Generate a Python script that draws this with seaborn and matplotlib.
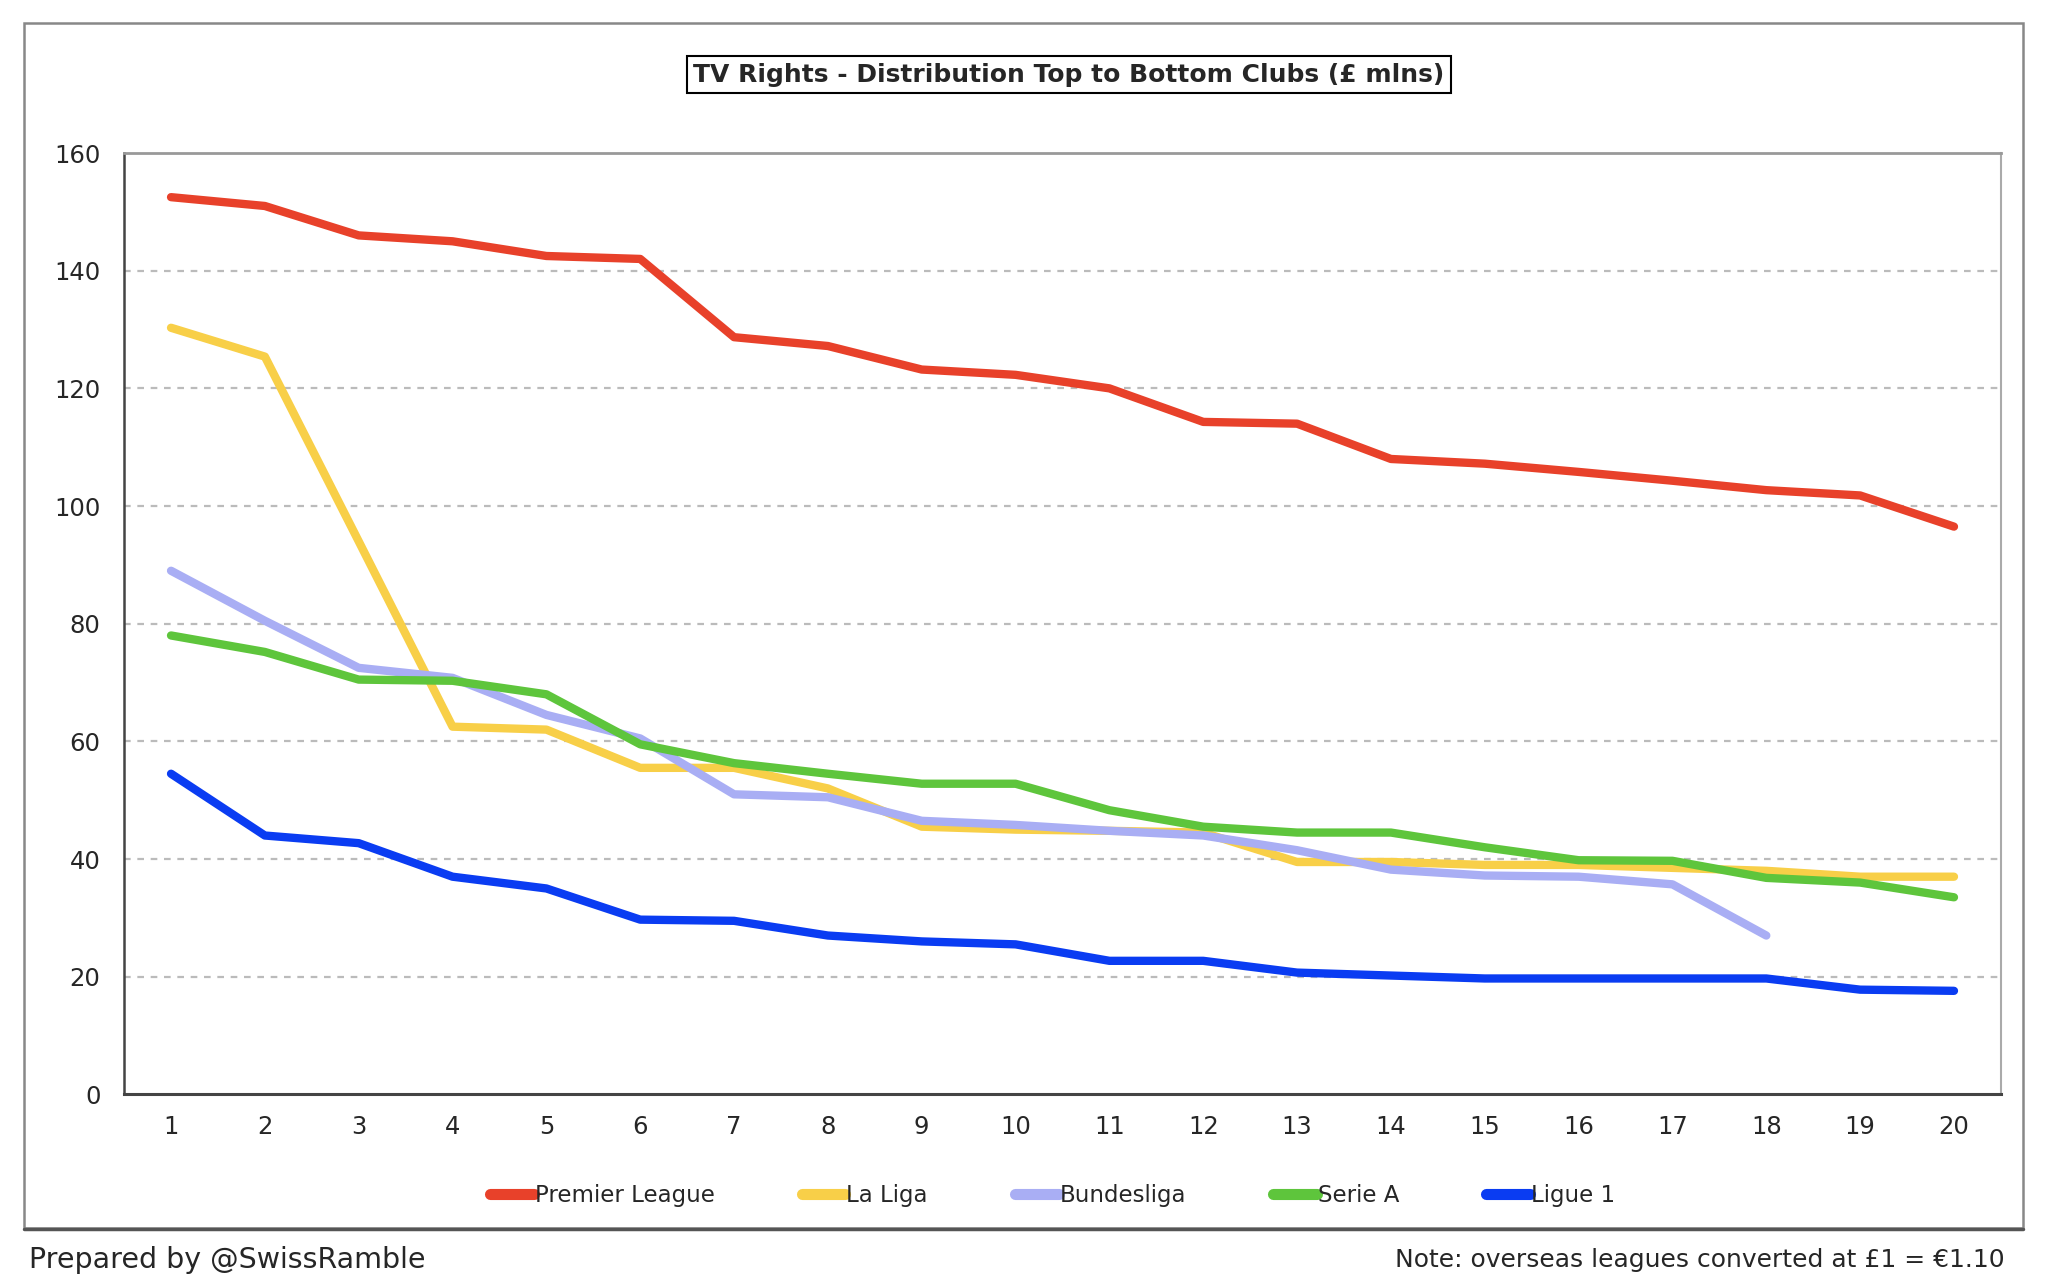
import pandas as pd
import numpy as np
import matplotlib
matplotlib.use('Agg')
import matplotlib.pyplot as plt
import matplotlib.patches as patches
from matplotlib.ticker import MultipleLocator, FixedLocator
import seaborn as sns

# Clubs ranked top to bottom
positions = list(range(1, 21))

premier_league = [152.5, 151.0, 146.0, 145.0, 142.5, 142.0, 128.7, 127.2, 123.2, 122.3,
                  120.0, 114.3, 114.0, 108.0, 107.2, 105.8, 104.3, 102.7, 101.8, 96.5]
la_liga = [130.3, 125.4, 94.0, 62.5, 62.0, 55.5, 55.5, 52.0, 45.5, 45.0,
           44.8, 44.5, 39.5, 39.5, 39.0, 39.0, 38.5, 38.0, 37.0, 37.0]
bundesliga = [89.0, 80.5, 72.5, 70.8, 64.5, 60.5, 51.0, 50.5, 46.5, 45.8,
              44.8, 44.0, 41.5, 38.2, 37.2, 37.0, 35.7, 27.0]
serie_a = [78.0, 75.2, 70.5, 70.3, 68.0, 59.5, 56.3, 54.5, 52.8, 52.8,
           48.3, 45.5, 44.5, 44.5, 42.0, 39.8, 39.7, 36.8, 36.0, 33.5]
ligue_1 = [54.5, 44.0, 42.7, 37.0, 35.0, 29.7, 29.5, 27.0, 26.0, 25.5,
           22.7, 22.7, 20.7, 20.2, 19.7, 19.7, 19.7, 19.7, 17.8, 17.6]

leagues = ['Premier League', 'La Liga', 'Bundesliga', 'Serie A', 'Ligue 1']
colors = ['#E8412A', '#F8CF48', '#A9AEF4', '#5EC53C', '#0A3CF2']

# long format table for seaborn
rows = []
for name, vals in zip(leagues, [premier_league, la_liga, bundesliga, serie_a, ligue_1]):
    for pos, v in zip(positions, vals):
        rows.append({'Position': pos, 'Value': v, 'League': name})
df = pd.DataFrame(rows)

sns.set_style('white')
plt.rcParams['font.family'] = ['DejaVu Sans']

fig = plt.figure(figsize=(20.48, 12.86), dpi=100)
ax = fig.add_axes([0.0606, 0.149, 0.9164, 0.732])

sns.lineplot(data=df, x='Position', y='Value', hue='League', hue_order=leagues,
             palette=colors, linewidth=6, ax=ax, legend=True)

ax.set_xlim(0.5, 20.5)
ax.set_ylim(0, 160)
ax.yaxis.set_major_locator(MultipleLocator(20))
ax.set_xticks(positions)
ax.xaxis.set_minor_locator(FixedLocator(np.arange(0.5, 21, 1)))
ax.tick_params(axis='x', which='major', length=0, labelsize=17.5, pad=15)
ax.tick_params(axis='x', which='minor', length=7, width=1.5, color='#444444', direction='out')
ax.tick_params(axis='y', which='major', length=7, width=1.5, color='#444444', labelsize=17.5, pad=10)
ax.set_xlabel('')
ax.set_ylabel('')

for v in range(20, 160, 20):
    ax.axhline(v, color='#BBBBBB', linestyle=(0, (3, 3)), linewidth=1.6, zorder=0)

ax.spines['left'].set_color('#444444')
ax.spines['left'].set_linewidth(1.8)
ax.spines['bottom'].set_color('#444444')
ax.spines['bottom'].set_linewidth(2.2)
ax.spines['top'].set_color('#999999')
ax.spines['top'].set_linewidth(2)
ax.spines['right'].set_color('#AAAAAA')
ax.spines['right'].set_linewidth(1.5)

# legend below the plot
handles, labels = ax.get_legend_handles_labels()
leg = ax.legend(handles, labels, loc='center', bbox_to_anchor=(0.514, 0.07),
                bbox_transform=fig.transFigure, ncol=5, frameon=False, fontsize=16.5,
                handlelength=1.9, handletextpad=0.05, columnspacing=3.8)
for h in leg.get_lines():
    h.set_linewidth(8)

# title in a box
fig.text(0.522, 0.942, 'TV Rights - Distribution Top to Bottom Clubs (£ mlns)',
         ha='center', va='center', fontsize=18, fontweight='bold',
         bbox=dict(boxstyle='square,pad=0.25', facecolor='white', edgecolor='black', linewidth=1.5))

# outer frame
frame = patches.Rectangle((0.0115, 0.045), 0.9765, 0.937, transform=fig.transFigure,
                          fill=False, edgecolor='#888888', linewidth=1.8, zorder=-1)
fig.patches.append(frame)
fig.add_artist(plt.Line2D([0.0115, 0.988], [0.044, 0.044], transform=fig.transFigure,
                          color='#555555', linewidth=2.5))

fig.text(0.014, 0.02, 'Prepared by @SwissRamble', ha='left', va='center', fontsize=20.5)
fig.text(0.979, 0.02, 'Note: overseas leagues converted at £1 = €1.10', ha='right', va='center', fontsize=18)

fig.savefig('out.png', dpi=100, facecolor='white')
